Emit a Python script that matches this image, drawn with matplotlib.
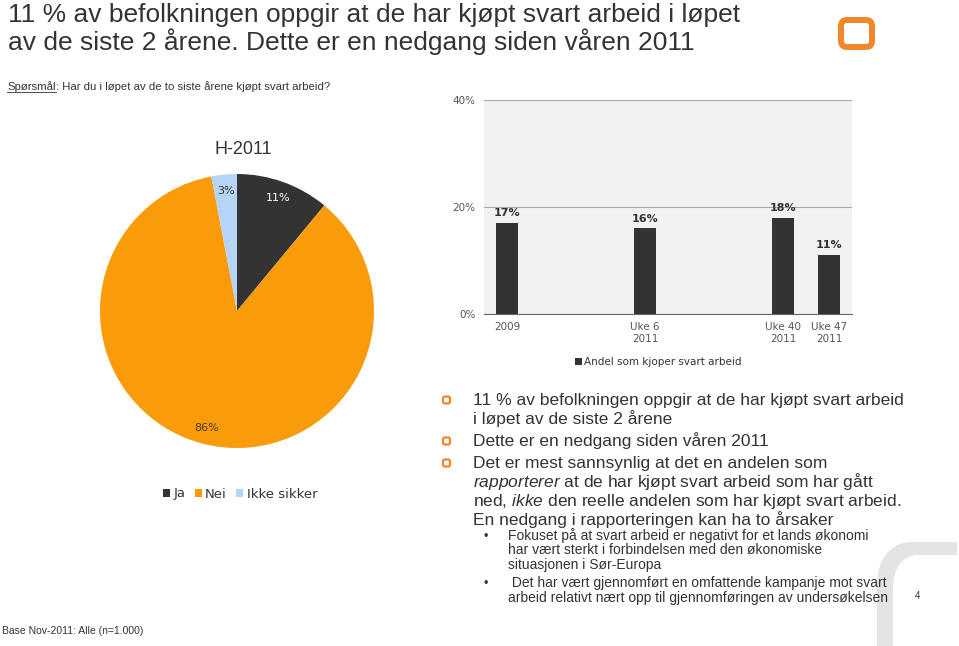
import matplotlib
matplotlib.use("Agg")
import matplotlib.pyplot as plt
from matplotlib.patches import FancyBboxPatch, PathPatch
from matplotlib.path import Path

W, H = 959, 646

# pie: H-2011
pie_labels = ["Ja", "Nei", "Ikke sikker"]
pie_values = [11, 86, 3]
pie_colors = ["#333333", "#fa9b0a", "#b5d4f6"]

# bars: trend
bar_cats = ["2009", "Uke 6\n2011", "Uke 40\n2011", "Uke 47\n2011"]
bar_values = [17, 16, 18, 11]
bar_series = "Andel som kjoper svart arbeid"
bar_ticks = [0, 20, 40]

title_lines = ["11 % av befolkningen oppgir at de har kjøpt svart arbeid i løpet",
               "av de siste 2 årene. Dette er en nedgang siden våren 2011"]
question = "Har du i løpet av de to siste årene kjøpt svart arbeid?"
bullet_lines = [
    ["11 % av befolkningen oppgir at de har kjøpt svart arbeid",
     "i løpet av de siste 2 årene"],
    ["Dette er en nedgang siden våren 2011"],
    ["Det er mest sannsynlig at det en andelen som",
     r"$\mathit{rapporterer}$ at de har kjøpt svart arbeid som har gått",
     r"ned, $\mathit{ikke}$ den reelle andelen som har kjøpt svart arbeid.",
     "En nedgang i rapporteringen kan ha to årsaker"],
]
sub_bullet_lines = [
    ["Fokuset på at svart arbeid er negativt for et lands økonomi",
     "har vært sterkt i forbindelsen med den økonomiske",
     "situasjonen i Sør-Europa"],
    [" Det har vært gjennomført en omfattende kampanje mot svart",
     "arbeid relativt nært opp til gjennomføringen av undersøkelsen"],
]
base_text = "Base Nov-2011: Alle (n=1.000)"

plt.rcParams["mathtext.fontset"] = "custom"
plt.rcParams["mathtext.rm"] = "Liberation Sans"
plt.rcParams["mathtext.it"] = "Liberation Sans:italic"

TXT = "#333333"
ORANGE = "#f0882a"

fig = plt.figure(figsize=(W / 100, H / 100), dpi=100)
r = fig.canvas.get_renderer()

# full-page axes in pixel units for the slide furniture
bg = fig.add_axes([0, 0, 1, 1])
bg.set_xlim(0, W)
bg.set_ylim(H, 0)
bg.axis("off")


def text_width(s, size):
    t = bg.text(0, 0, s, fontsize=size, family="Liberation Sans")
    w = t.get_window_extent(r).width
    t.remove()
    return w


# grey "r" shape bottom right
verts = [(877, 646), (877, 585), (877, 560), (890, 542), (912, 542),
         (957, 542), (957, 555), (918, 555), (903, 555), (893, 568),
         (893, 588), (893, 646), (877, 646)]
codes = [Path.MOVETO, Path.LINETO, Path.CURVE4, Path.CURVE4, Path.CURVE4,
         Path.LINETO, Path.LINETO, Path.LINETO, Path.CURVE4, Path.CURVE4,
         Path.CURVE4, Path.LINETO, Path.CLOSEPOLY]
bg.add_patch(PathPatch(Path(verts, codes), fc="#e4e4e4", ec="none"))

# logo
bg.add_patch(FancyBboxPatch((841, 20), 31, 27, boxstyle="round,pad=0,rounding_size=6",
                            fill=False, ec=ORANGE, lw=4.3))

# title
for i, line in enumerate(title_lines):
    bg.text(8, 22 + i * 28, line, color=TXT, va="baseline", fontsize=19,
            family="Liberation Sans")

# question line
full_q = "Spørsmål: " + question
qsize = 8 * 324 / text_width(full_q, 8)
t = bg.text(7, 90, "Spørsmål", color=TXT, va="baseline", fontsize=qsize,
            family="Liberation Sans")
x_end = 7 + t.get_window_extent(r).width
bg.plot([7, x_end], [91.5, 91.5], color=TXT, lw=0.6)
bg.text(x_end, 90, ": " + question, color=TXT, va="baseline", fontsize=qsize,
        family="Liberation Sans")

# pie chart
bg.text(243, 154, "H-2011", fontsize=13, family="Liberation Sans", color=TXT,
        ha="center", va="baseline")
pax = fig.add_axes([100 / W, 1 - 448 / H, 274 / W, 274 / H])
wedges, _, autotexts = pax.pie(pie_values, colors=pie_colors, startangle=90,
                               counterclock=False, radius=1, pctdistance=0.88,
                               autopct=lambda p: f"{p:.0f}%",
                               wedgeprops=dict(linewidth=0),
                               textprops=dict(fontsize=8, family="DejaVu Sans"))
for i, at in enumerate(autotexts):
    at.set_color("white" if i == 0 else "#4a3a20" if i == 1 else "#333333")
pax.set_xlim(-1, 1)
pax.set_ylim(-1, 1)
pax.set_aspect("equal")
pax.patch.set_alpha(0)
fig.legend(wedges, pie_labels, loc="center", bbox_to_anchor=(240 / W, 1 - 494 / H),
           ncol=3, frameon=False, handlelength=0.55, handleheight=0.55,
           handletextpad=0.25, columnspacing=0.7, borderpad=0,
           prop=dict(family="DejaVu Sans", size=9.5), labelcolor=TXT)

# bar chart
bar_slots = [0, 3, 6, 7]
bx = fig.add_axes([484 / W, 1 - 314 / H, 368 / W, 214 / H])
bx.set_facecolor("#f2f2f2")
bx.bar(bar_slots, bar_values, width=0.46, color="#333333", label=bar_series, zorder=3)
for xs, v in zip(bar_slots, bar_values):
    bx.text(xs, v + 0.9, f"{v}%", ha="center", va="bottom", fontsize=8,
            fontweight="bold", color="#333333", family="DejaVu Sans")
bx.set_xlim(-0.5, 7.5)
bx.set_ylim(0, 40)
bx.set_yticks(bar_ticks)
bx.set_yticklabels([f"{v}%" for v in bar_ticks])
bx.set_xticks(bar_slots)
bx.set_xticklabels(bar_cats, linespacing=1.15)
bx.grid(axis="y", color="#a8a8a8", lw=0.8, zorder=0)
for s in ["left", "right", "top"]:
    bx.spines[s].set_visible(False)
bx.spines["bottom"].set_color("#666666")
bx.tick_params(length=0, labelsize=7.5, labelcolor="#555555", pad=6)
for lab in bx.get_xticklabels() + bx.get_yticklabels():
    lab.set_family("DejaVu Sans")
bx.legend(loc="center", bbox_to_anchor=(658 / W, 1 - 362 / H), bbox_transform=fig.transFigure,
          frameon=False, handlelength=0.7, handleheight=0.7, handletextpad=0.15,
          borderpad=0, prop=dict(family="DejaVu Sans", size=7.5), labelcolor="#333333")

# bullet text
y = 405
for para in bullet_lines:
    bg.add_patch(FancyBboxPatch((443, y - 8.5), 7, 7, boxstyle="round,pad=0,rounding_size=1.8",
                                fill=False, ec=ORANGE, lw=1.6))
    for line in para:
        bg.text(473, y, line, fontsize=12.5, family="Liberation Sans", color=TXT,
                va="baseline")
        y += 19
    y += 3

y = 540
for para in sub_bullet_lines:
    bg.text(483, y, "•", fontsize=9, family="Liberation Sans", color=TXT, va="baseline")
    for line in para:
        bg.text(508, y, line, fontsize=10, family="Liberation Sans", color=TXT,
                va="baseline")
        y += 14.5
    y += 4

bg.text(915, 599, "4", fontsize=7, family="Liberation Sans", color=TXT, va="baseline")
bg.text(2, 634, base_text, fontsize=7.5, family="Liberation Sans", color=TXT, va="baseline")

fig.savefig("out.png", dpi=100)
